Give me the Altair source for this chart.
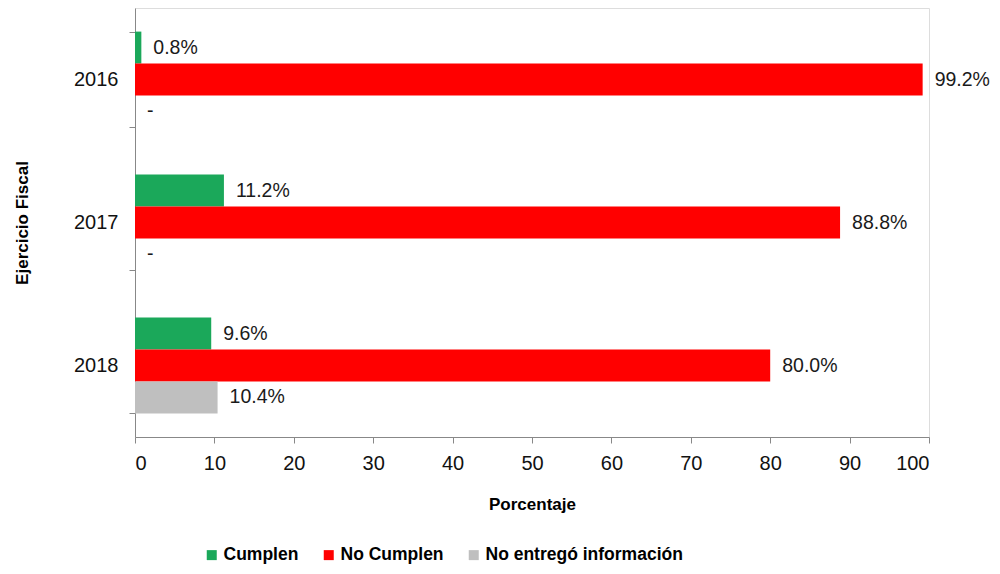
import altair as alt
import pandas as pd

years = ["2016", "2017", "2018"]
series = ["Cumplen", "No Cumplen", "No entregó información"]
cumplen = [0.8, 11.2, 9.6]
no_cumplen = [99.2, 88.8, 80.0]
no_entrego = [0.0, 0.0, 10.4]
colors = ["#1BA85A", "#FF0000", "#BFBFBF"]

rows = []
for i, y in enumerate(years):
    for s, vals in zip(series, [cumplen, no_cumplen, no_entrego]):
        v = vals[i]
        rows.append({
            "year": y,
            "series": s,
            "value": v,
            "label": f"{v:.1f}%" if v > 0 else "-",
        })
df = pd.DataFrame(rows)

FONT = "Liberation Sans"

y_enc = alt.Y(
    "year:N",
    sort=years,
    scale=alt.Scale(paddingInner=0.33, paddingOuter=0.165),
    axis=alt.Axis(
        title="Ejercicio Fiscal",
        titleFont=FONT, titleFontSize=17, titleFontWeight="bold", titleColor="#000",
        titlePadding=42,
        labelFont=FONT, labelFontSize=20, labelColor="#111", labelPadding=11,
        tickBand="extent", tickSize=6, tickColor="#888", domainColor="#888",
        grid=False,
    ),
)

x_enc = alt.X(
    "value:Q",
    scale=alt.Scale(domain=[0, 100], nice=False),
    axis=alt.Axis(
        title="Porcentaje",
        values=list(range(0, 101, 10)),
        titleFont=FONT, titleFontSize=17, titleFontWeight="bold", titleColor="#000",
        titlePadding=23,
        labelFont=FONT, labelFontSize=20, labelColor="#111", labelPadding=10,
        tickSize=6, tickColor="#888", domainColor="#888", grid=False,
    ),
)

color_enc = alt.Color(
    "series:N",
    sort=series,
    scale=alt.Scale(domain=series, range=colors),
    legend=alt.Legend(
        title=None, orient="none", direction="horizontal",
        legendX=68, legendY=538,
        symbolType="square", symbolSize=100, symbolStrokeWidth=0,
        labelFont=FONT, labelFontSize=17.5, labelFontWeight="bold", labelColor="#000",
        labelOffset=3, columnPadding=21, labelLimit=0,
    ),
)

bars = alt.Chart(df).mark_bar(cornerRadius=0).encode(
    x=x_enc,
    y=y_enc,
    yOffset=alt.YOffset("series:N", sort=series),
    color=color_enc,
)

labels = alt.Chart(df).mark_text(
    align="left", baseline="middle", dx=12, font=FONT, fontSize=19.5, color="#1a1a1a"
).encode(
    x=alt.X("value:Q"),
    y=alt.Y("year:N", sort=years),
    yOffset=alt.YOffset("series:N", sort=series),
    text="label:N",
)

chart = alt.layer(bars, labels).properties(
    width=794, height=429,
    padding={"left": 127, "top": 0, "right": 63, "bottom": 129},
    autosize=alt.AutoSizeParams(type="none"),
).configure_view(stroke="transparent", strokeWidth=0).configure(background="white")

chart.save("out.html", embed_options={"renderer": "svg", "actions": False})
